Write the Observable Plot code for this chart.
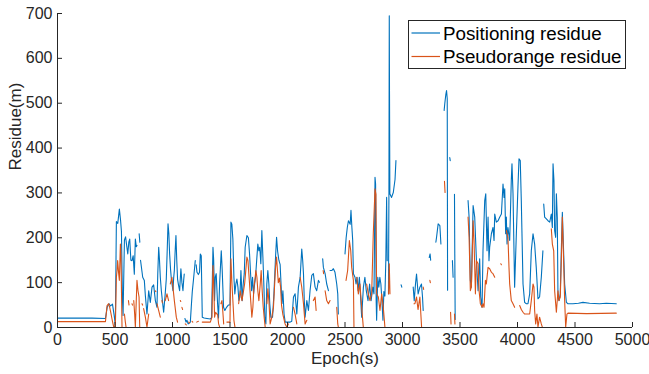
<!DOCTYPE html>
<html>
<head>
<meta charset="utf-8">
<script src="https://cdn.jsdelivr.net/npm/d3@7"></script>
<script src="https://cdn.jsdelivr.net/npm/@observablehq/plot@0.6"></script>
<style>
  body { margin: 0; background: #fff; }
</style>
</head>
<body>
<div id="chart"></div>
<script>
// [epoch (s), residue (m)]; null marks a gap in the recorded series
const positioningResidue = [
[0,21],[100,21],[200,21],[300,21],[417,20],[432,45],[448,53],[462,48],[478,52],[492,28],[503,6],[512,236],[524,232],[538,264],[548,240],[556,214],[565,60],[570,27],[582,195],[592,202],[600,186],[611,164],[620,190],[628,197],[638,150],[648,149],[658,160],[668,119],[677,197],[685,180],[691,183],[697,null],[710,209],[716,190],[719,null],[722,150],[741,112],[755,105],[764,71],[778,30],[793,82],[807,56],[822,90],[836,95],[851,60],[865,45],[872,120],[880,179],[887,150],[894,112],[903,82],[912,60],[923,34],[935,70],[946,108],[955,180],[961,231],[968,210],[975,164],[983,130],[990,108],[1004,82],[1010,110],[1016,127],[1023,170],[1030,205],[1037,150],[1044,108],[1052,95],[1062,82],[1068,110],[1073,131],[1082,100],[1091,82],[1097,105],[1102,119],[1105,null],[1108,20],[1118,12],[1126,16],[1136,8],[1146,10],[1155,12],[1163,45],[1172,80],[1183,108],[1190,127],[1198,149],[1202,null],[1206,140],[1213,123],[1225,118],[1235,123],[1242,164],[1250,160],[1259,23],[1275,21],[1300,20],[1329,19],[1340,22],[1352,179],[1358,150],[1366,60],[1372,112],[1380,120],[1392,53],[1400,21],[1410,100],[1424,171],[1432,130],[1444,45],[1455,38],[1470,45],[1485,50],[1500,50],[1508,235],[1516,230],[1525,197],[1534,112],[1542,75],[1551,97],[1560,108],[1569,90],[1577,60],[1586,68],[1595,127],[1606,60],[1615,97],[1624,120],[1632,179],[1647,205],[1660,200],[1670,164],[1679,120],[1688,82],[1696,112],[1705,75],[1714,97],[1722,112],[1734,157],[1742,186],[1751,171],[1759,179],[1768,142],[1777,216],[1786,157],[1795,90],[1803,23],[1812,8],[1820,97],[1829,127],[1838,97],[1846,53],[1855,23],[1870,23],[1882,75],[1896,157],[1905,201],[1914,170],[1925,150],[1936,140],[1945,90],[1952,53],[1960,82],[1970,30],[1980,12],[1994,12],[2008,12],[2023,12],[2037,14],[2052,68],[2066,75],[2081,30],[2095,90],[2110,112],[2124,175],[2132,150],[2139,120],[2146,60],[2153,23],[2168,60],[2182,38],[2196,82],[2211,116],[2225,120],[2240,90],[2254,82],[2269,105],[2278,101],[2290,null],[2306,153],[2312,134],[2327,120],[2341,97],[2356,82],[2363,null],[2370,127],[2385,127],[2399,131],[2413,123],[2428,97],[2437,75],[2442,30],[2470,null],[2500,164],[2510,200],[2520,223],[2530,238],[2545,230],[2552,261],[2560,223],[2567,194],[2573,120],[2587,112],[2596,97],[2605,112],[2614,82],[2625,112],[2634,75],[2645,23],[2660,90],[2673,112],[2685,82],[2700,60],[2714,97],[2727,60],[2742,90],[2752,75],[2757,200],[2761,335],[2766,320],[2771,60],[2775,16],[2785,112],[2794,90],[2803,112],[2812,97],[2821,60],[2830,16],[2838,80],[2847,70],[2855,150],[2862,290],[2867,149],[2872,null],[2878,75],[2882,300],[2885,695],[2887,520],[2890,298],[2905,290],[2920,301],[2935,330],[2943,372],[2960,null],[2988,95],[2994,90],[3000,null],[3093,90],[3102,60],[3113,97],[3122,119],[3136,75],[3151,90],[3165,97],[3174,68],[3180,38],[3200,null],[3232,156],[3240,164],[3245,150],[3260,null],[3290,190],[3296,201],[3310,231],[3325,227],[3334,186],[3345,null],[3362,484],[3368,500],[3377,520],[3383,528],[3389,510],[3392,83],[3400,null],[3411,379],[3415,372],[3420,null],[3434,149],[3440,112],[3445,null],[3452,297],[3455,150],[3458,18],[3500,null],[3570,283],[3579,246],[3590,105],[3599,90],[3614,272],[3628,246],[3643,149],[3657,82],[3671,153],[3680,68],[3692,45],[3700,171],[3715,283],[3724,298],[3735,171],[3744,246],[3752,149],[3758,179],[3773,209],[3787,223],[3796,194],[3802,253],[3816,235],[3831,238],[3845,246],[3860,253],[3874,320],[3883,290],[3889,309],[3897,209],[3903,246],[3909,186],[3917,223],[3932,194],[3946,327],[3952,365],[3961,298],[3975,90],[3990,209],[4004,313],[4013,376],[4024,372],[4033,283],[4048,97],[4062,56],[4077,53],[4091,53],[4106,75],[4120,171],[4135,209],[4149,186],[4163,134],[4178,64],[4192,68],[4207,112],[4221,171],[4224,null],[4228,275],[4236,246],[4251,242],[4265,238],[4280,235],[4294,253],[4303,223],[4309,365],[4317,327],[4323,216],[4332,201],[4338,298],[4346,246],[4352,68],[4361,60],[4372,75],[4381,171],[4390,257],[4396,209],[4410,97],[4425,56],[4439,53],[4482,53],[4530,54],[4569,56],[4627,54],[4714,53],[4772,54],[4859,53]
];

const pseudorangeResidue = [
[0,13],[200,13],[417,13],[431,49],[445,53],[454,45],[466,30],[477,15],[489,1],[503,1],[512,112],[518,127],[523,149],[532,120],[538,105],[547,186],[552,157],[561,1],[570,null],[582,30],[590,12],[596,1],[600,null],[617,60],[622,50],[626,null],[648,53],[652,50],[656,null],[663,60],[671,30],[677,1],[691,105],[700,82],[709,68],[715,1],[720,null],[735,53],[740,50],[744,null],[749,42],[764,23],[778,1],[793,30],[798,null],[850,82],[855,80],[858,null],[865,53],[894,23],[898,null],[908,60],[912,55],[916,null],[937,60],[952,75],[966,60],[972,null],[981,97],[995,112],[1004,90],[1016,60],[1033,23],[1044,12],[1050,null],[1068,60],[1072,58],[1076,null],[1082,45],[1088,40],[1092,null],[1111,8],[1120,6],[1125,null],[1140,12],[1150,10],[1155,null],[1170,14],[1176,12],[1180,null],[1210,12],[1225,14],[1230,null],[1259,12],[1290,12],[1329,12],[1343,23],[1352,138],[1358,105],[1366,23],[1375,34],[1384,30],[1392,30],[1401,8],[1410,1],[1415,null],[1421,53],[1430,60],[1438,34],[1445,8],[1450,null],[1473,12],[1500,12],[1502,60],[1508,153],[1517,97],[1525,60],[1534,16],[1543,1],[1550,null],[1575,53],[1589,82],[1604,60],[1618,82],[1627,97],[1635,120],[1647,157],[1656,149],[1664,120],[1676,75],[1690,23],[1699,45],[1708,90],[1716,105],[1725,127],[1734,112],[1742,82],[1751,60],[1763,97],[1771,127],[1780,82],[1789,45],[1797,23],[1806,1],[1812,null],[1821,53],[1829,86],[1838,60],[1849,8],[1864,23],[1878,45],[1887,90],[1896,134],[1905,157],[1912,130],[1920,100],[1930,110],[1940,90],[1948,50],[1959,30],[1979,8],[1994,1],[2008,8],[2015,null],[2052,45],[2066,30],[2081,8],[2090,null],[2110,112],[2124,90],[2139,53],[2153,8],[2168,16],[2175,null],[2225,60],[2240,68],[2249,38],[2255,null],[2310,127],[2314,120],[2318,null],[2327,82],[2341,60],[2356,53],[2370,60],[2380,null],[2428,45],[2437,8],[2442,1],[2450,null],[2509,105],[2523,127],[2538,194],[2550,171],[2558,134],[2573,105],[2578,1],[2590,null],[2602,112],[2616,75],[2630,97],[2645,45],[2659,1],[2670,null],[2688,97],[2703,75],[2717,60],[2732,75],[2746,209],[2761,309],[2769,297],[2775,75],[2790,68],[2804,38],[2819,75],[2833,45],[2847,1],[2860,null],[2879,75],[2885,142],[2891,75],[2900,null],[3100,53],[3108,53],[3122,68],[3135,40],[3151,68],[3166,1],[3172,null],[3180,90],[3184,85],[3190,null],[3238,105],[3242,100],[3250,null],[3365,326],[3370,301],[3375,null],[3418,34],[3422,8],[3428,null],[3452,30],[3456,8],[3460,null],[3570,246],[3579,201],[3590,82],[3599,90],[3614,238],[3622,194],[3634,75],[3643,149],[3657,142],[3666,82],[3677,53],[3692,45],[3700,53],[3709,45],[3721,105],[3729,97],[3744,134],[3758,131],[3773,123],[3787,120],[3802,112],[3810,null],[3855,142],[3860,140],[3865,null],[3903,216],[3917,201],[3926,134],[3932,97],[3946,60],[3961,53],[3975,45],[3985,null],[4019,49],[4033,40],[4048,34],[4062,30],[4106,30],[4120,60],[4135,97],[4143,90],[4149,38],[4158,8],[4169,30],[4178,1],[4192,23],[4207,8],[4216,1],[4221,null],[4294,220],[4303,186],[4315,171],[4323,82],[4338,34],[4352,82],[4361,60],[4372,68],[4381,149],[4390,246],[4401,149],[4410,60],[4419,1],[4430,30],[4439,32],[4600,31],[4859,32]
];

const seriesNames = ["Positioning residue", "Pseudorange residue"];
const seriesColors = ["#0072BD", "#D95319"];
const xTicks = [0, 500, 1000, 1500, 2000, 2500, 3000, 3500, 4000, 4500, 5000];
const yTicks = [0, 100, 200, 300, 400, 500, 600, 700];
const xLabel = "Epoch(s)";
const yLabel = "Residue(m)";

const axisColor = "#262626";
const font = "'Liberation Sans', Arial, Helvetica, sans-serif";

const chart = Plot.plot({
  width: 649,
  height: 374,
  marginLeft: 57,
  marginRight: 17,
  marginTop: 13,
  marginBottom: 47,
  style: { fontFamily: font, fontSize: "16px", color: axisColor, background: "#fff", overflow: "visible" },
  x: { domain: [0, 5000], ticks: xTicks, tickSize: 0, tickPadding: 6, tickFormat: d3.format("d"), label: null },
  y: { domain: [0, 700], ticks: yTicks, tickSize: 0, tickPadding: 5, tickFormat: d3.format("d"), label: null },
  marks: [
    Plot.line(positioningResidue, { x: d => d[0], y: d => d[1], stroke: seriesColors[0], strokeWidth: 1.1, clip: true }),
    Plot.line(pseudorangeResidue, { x: d => d[0], y: d => d[1], stroke: seriesColors[1], strokeWidth: 1.1, clip: true }),
    Plot.ruleX([0], { x: d => d, stroke: axisColor, strokeWidth: 1 }),
    Plot.ruleY([0], { y: d => d, stroke: axisColor, strokeWidth: 1 }),
    Plot.tickX(xTicks, { x: d => d, insetTop: 309, stroke: axisColor }),
    Plot.tickY(yTicks, { y: d => d, insetRight: 570, stroke: axisColor }),
    Plot.text([xLabel], { text: d => d, frameAnchor: "bottom", dy: 36, fontSize: 17, fill: axisColor }),
    Plot.text([yLabel], { text: d => d, frameAnchor: "left", dx: -42, rotate: -90, fontSize: 17, fill: axisColor })
  ]
});

document.getElementById("chart").appendChild(chart);

// Legend box inside the axes (top-right), as in the reference
const svg = d3.select(chart);
const lg = svg.append("g")
  .attr("font-family", font)
  .attr("font-size", 18.8)
  .attr("text-anchor", "start");
lg.append("rect")
  .attr("x", 408.5).attr("y", 20.5).attr("width", 217).attr("height", 48)
  .attr("fill", "#fff").attr("stroke", axisColor).attr("stroke-width", 1);
seriesNames.forEach((name, i) => {
  const yy = 33 + i * 23.5;
  lg.append("line")
    .attr("x1", 411.5).attr("x2", 440).attr("y1", yy).attr("y2", yy)
    .attr("stroke", seriesColors[i]).attr("stroke-width", 1.2);
  lg.append("text")
    .attr("x", 443).attr("y", yy).attr("dy", "0.35em")
    .attr("text-anchor", "start")
    .attr("fill", "#000").text(name);
});
</script>
</body>
</html>
